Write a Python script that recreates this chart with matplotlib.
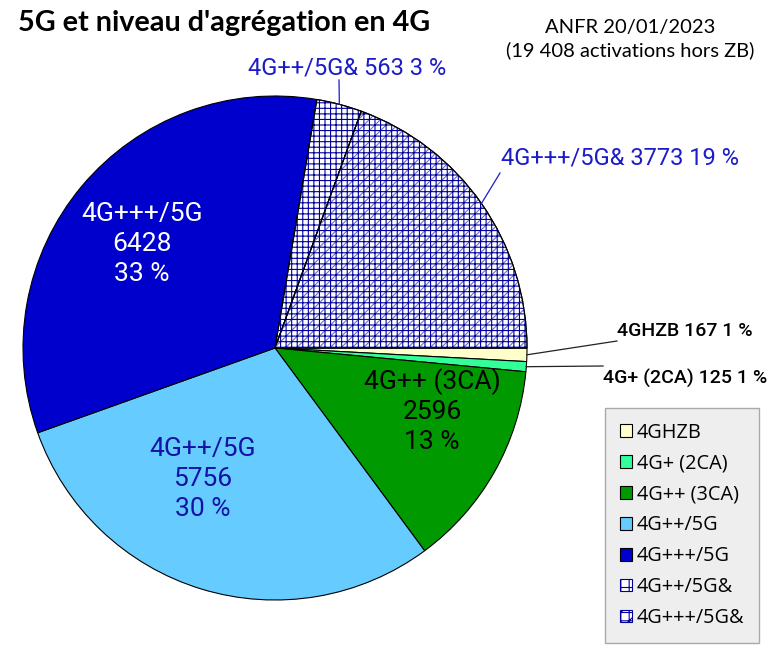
import numpy as np
import matplotlib
matplotlib.use('Agg')
import matplotlib.pyplot as plt
from matplotlib.patches import Wedge, Patch

# data
labels = ['4GHZB', '4G+ (2CA)', '4G++ (3CA)', '4G++/5G', '4G+++/5G', '4G++/5G&', '4G+++/5G&']
values = [167, 125, 2596, 5756, 6428, 563, 3773]
percents = [1, 1, 13, 30, 33, 3, 19]
colors = ['#ffffcc', '#33ff99', '#009900', '#66ccff', '#0000cc', 'white', 'white']
grid_hatch = [None, None, None, None, None, '+++', '+++']
diag_hatch = [None, None, None, None, None, None, '///']

plt.rcParams['hatch.linewidth'] = 0.8
W, H = 769, 650
fig = plt.figure(figsize=(W / 100, H / 100), dpi=100)
ax = fig.add_axes([0, 0, 1, 1])

cx, cy, R = 275, H - 348, 252
wedges, _ = ax.pie(values, colors=colors, startangle=0, counterclock=False,
                   center=(cx, cy), radius=R,
                   wedgeprops=dict(edgecolor='black', linewidth=0.8))

navy = '#000099'
for w, gh, dh in zip(wedges, grid_hatch, diag_hatch):
    if dh:
        ax.add_patch(Wedge(w.center, w.r, w.theta1, w.theta2, facecolor='none',
                           edgecolor='#7070cc', hatch=dh, linewidth=0))
    if gh:
        ax.add_patch(Wedge(w.center, w.r, w.theta1, w.theta2, facecolor='none',
                           edgecolor=navy, hatch=gh, linewidth=0))
        ax.add_patch(Wedge(w.center, w.r, w.theta1, w.theta2, facecolor='none',
                           edgecolor='black', linewidth=0.8))

ax.set_xlim(0, W)
ax.set_ylim(0, H)
ax.set_aspect('equal')
ax.axis('off')

roboto = ['Roboto', 'DejaVu Sans']
lato = ['Lato', 'DejaVu Sans']

# inside labels
inside = {2: ((432, 411), 'black'), 3: ((203, 479), '#1212a6'), 4: ((142, 244), 'white')}
for i, ((x, y), c) in inside.items():
    ax.text(x, H - y, '%s\n%d\n%d %%' % (labels[i], values[i], percents[i]),
            ha='center', va='center', fontsize=19, color=c, family=roboto,
            linespacing=1.3)

def edge_point(i):
    w = wedges[i]
    a = np.deg2rad((w.theta1 + w.theta2) / 2)
    return cx + R * np.cos(a), cy + R * np.sin(a)

# outside labels
outside = {5: ((347, 68), (339, 80), 'center', '#1c1cc8', 17, 'normal'),
           6: ((620, 158), (500, 173), 'center', '#1c1cc8', 17, 'normal'),
           0: ((617, 331), (617, 341), 'left', 'black', 14, 'medium'),
           1: ((603, 378), (603, 366), 'left', 'black', 14, 'medium')}
for i, ((tx, ty), (lx, ly), ha, c, fs, fw) in outside.items():
    px, py = edge_point(i)
    ax.plot([px, lx], [py, H - ly], color=c if c != 'black' else '#222222', lw=0.9)
    ax.text(tx, H - ty, '%s %d %d %%' % (labels[i], values[i], percents[i]),
            ha=ha, va='center', fontsize=fs, color=c, family=roboto, fontweight=fw)

fig.text(18 / W, 1 - 23 / H, "5G et niveau d'agrégation en 4G", ha='left', va='center',
         fontsize=20.7, fontweight='bold', family=lato)
fig.text(630 / W, 1 - 27 / H, 'ANFR 20/01/2023', ha='center', va='center',
         fontsize=14.5, family=lato)
fig.text(630 / W, 1 - 50 / H, '(19 408 activations hors ZB)', ha='center', va='center',
         fontsize=14.5, family=lato)

handles = []
for c, gh, dh in zip(colors, grid_hatch, diag_hatch):
    h = None
    if gh:
        h = '++' + ('//' if dh else '')
    handles.append(Patch(facecolor=c, edgecolor='black' if not gh else navy,
                         hatch=h, linewidth=0.8))
leg = fig.legend(handles, labels, loc='lower right',
                 bbox_to_anchor=(759 / W, 1 - 643 / H),
                 prop={'family': ['Open Sans', 'DejaVu Sans'], 'size': 14.3},
                 handlelength=0.6, handleheight=0.6, handletextpad=0.25,
                 labelspacing=0.55, borderpad=0.75, borderaxespad=0,
                 fancybox=False, framealpha=1)
leg.get_frame().set_facecolor('#eeeeee')
leg.get_frame().set_edgecolor('#aaaaaa')

fig.savefig('out.png', dpi=100)
